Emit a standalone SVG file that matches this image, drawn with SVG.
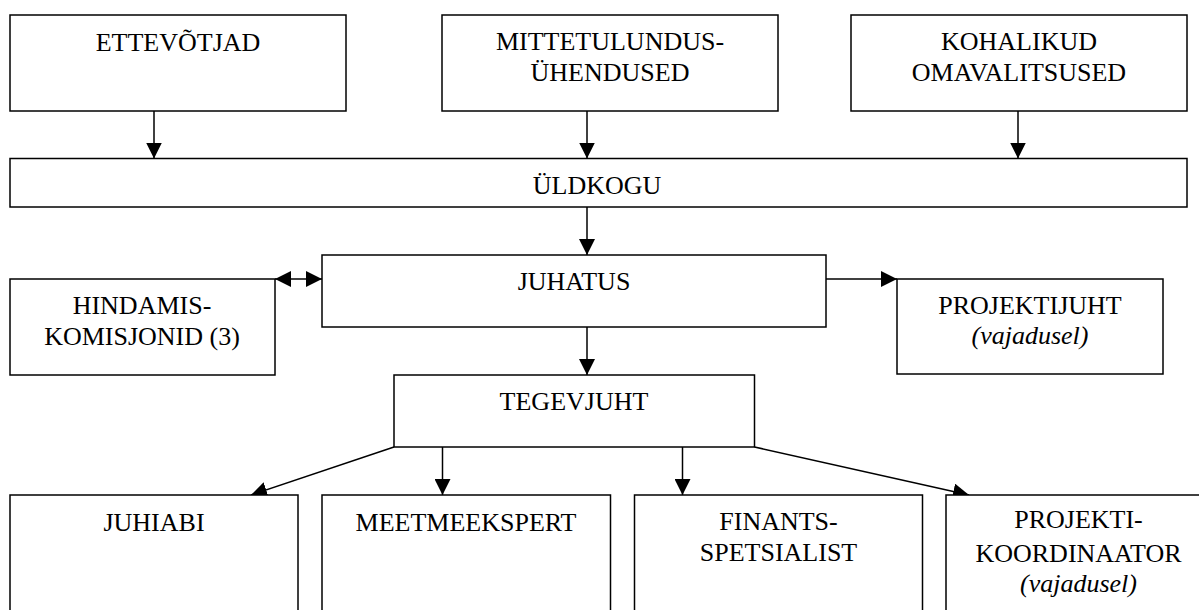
<svg xmlns="http://www.w3.org/2000/svg" width="1199" height="610" viewBox="0 0 1199 610">
<defs>
<marker id="ah" markerUnits="userSpaceOnUse" markerWidth="16" markerHeight="16" refX="15" refY="7.5" orient="auto-start-reverse" viewBox="0 0 15 15">
<path d="M0,0 L15,7.5 L0,15 z" fill="#000"/>
</marker>
</defs>
<rect width="1199" height="610" fill="#fff"/>
<g id="connectors" stroke="#000" stroke-width="1.5" fill="none" marker-end="url(#ah)">
<line x1="154" y1="111" x2="154" y2="158.5"/>
<line x1="587" y1="111" x2="587" y2="158.5"/>
<line x1="1018" y1="111" x2="1018" y2="158.5"/>
<line x1="587" y1="207" x2="587" y2="255"/>
<line x1="275" y1="279" x2="322" y2="279" marker-start="url(#ah)"/>
<line x1="826" y1="279" x2="897" y2="279"/>
<line x1="587" y1="327" x2="587" y2="375"/>
<line x1="394" y1="447" x2="251" y2="495"/>
<line x1="442.5" y1="447" x2="442.5" y2="495"/>
<line x1="682.5" y1="447" x2="682.5" y2="495"/>
<line x1="754.5" y1="447" x2="969" y2="495"/>
</g>
<g id="nodes" fill="#fff" stroke="#000" stroke-width="1.5">
<g id="ettevotjad"><rect x="10" y="15" width="336" height="96"/></g>
<g id="mittetulundus"><rect x="442" y="15" width="336" height="96"/></g>
<g id="kohalikud"><rect x="851" y="15" width="336" height="96"/></g>
<g id="uldkogu"><rect x="10" y="158.5" width="1177" height="48.5"/></g>
<g id="juhatus"><rect x="322" y="255" width="504" height="72"/></g>
<g id="hindamiskomisjonid"><rect x="10" y="279" width="265" height="96"/></g>
<g id="projektijuht"><rect x="897" y="279" width="266" height="95"/></g>
<g id="tegevjuht"><rect x="394" y="375" width="360.5" height="72"/></g>
<g id="juhiabi"><rect x="10" y="495" width="288" height="140"/></g>
<g id="meetmeekspert"><rect x="322" y="495" width="288.5" height="140"/></g>
<g id="finantsspetsialist"><rect x="634.5" y="495" width="288" height="140"/></g>
<g id="projektikoordinaator"><rect x="946" y="495" width="265" height="140"/></g>
</g>
<g id="labels" font-family="Liberation Serif" font-size="26" fill="#000" text-anchor="middle">
<text x="178" y="51">ETTEVÕTJAD</text>
<text x="610" y="50">MITTETULUNDUS-</text>
<text x="610" y="81">ÜHENDUSED</text>
<text x="1019" y="50">KOHALIKUD</text>
<text x="1019" y="81">OMAVALITSUSED</text>
<text x="597" y="194">ÜLDKOGU</text>
<text x="574" y="290">JUHATUS</text>
<text x="142" y="314">HINDAMIS-</text>
<text x="142" y="345">KOMISJONID (3)</text>
<text x="1030" y="314">PROJEKTIJUHT</text>
<text x="1030" y="344" font-style="italic">(vajadusel)</text>
<text x="574" y="410">TEGEVJUHT</text>
<text x="154" y="531">JUHIABI</text>
<text x="466" y="531">MEETMEEKSPERT</text>
<text x="778.5" y="530">FINANTS-</text>
<text x="778.5" y="561">SPETSIALIST</text>
<text x="1078.5" y="528">PROJEKTI-</text>
<text x="1078.5" y="561.5">KOORDINAATOR</text>
<text x="1078.5" y="592" font-style="italic">(vajadusel)</text>
</g>
</svg>
